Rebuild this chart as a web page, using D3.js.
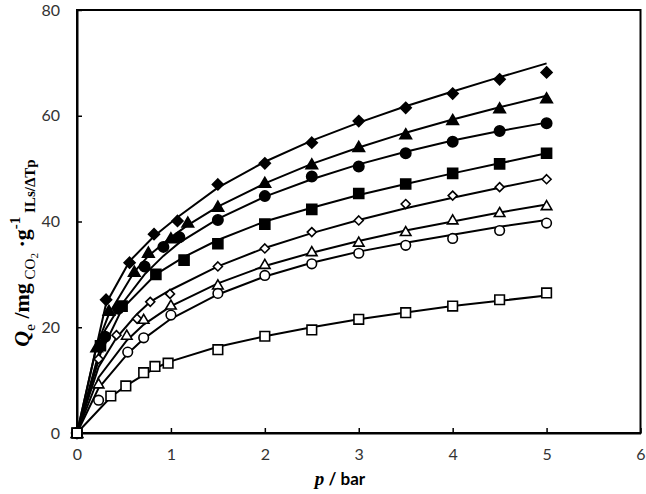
<!DOCTYPE html>
<html>
<head>
<meta charset="utf-8">
<script src="https://cdn.jsdelivr.net/npm/d3@7"></script>
<style>
  body { margin: 0; background: #fff; }
  svg { display: block; }
</style>
</head>
<body>
<div id="chart"></div>
<script>
// measured points: [p, Qe]
const filledDiamond = [[0,0],[0.31,25.2],[0.56,32.2],[0.82,37.6],[1.07,40.1],[1.5,47.0],[2,51.0],[2.5,54.9],[3,59.0],[3.5,61.5],[4,64.2],[4.5,66.9],[5,68.2]];
const filledTriangle = [[0,0],[0.21,16.2],[0.34,23.1],[0.61,30.5],[0.76,34.1],[1.0,36.8],[1.18,39.8],[1.5,42.8],[2,47.3],[2.5,50.8],[3,54.1],[3.5,56.5],[4,59.2],[4.5,61.4],[5,63.3]];
const filledCircle = [[0,0],[0.30,18.2],[0.44,23.5],[0.72,31.5],[0.92,35.2],[1.09,37.0],[1.5,40.3],[2,44.8],[2.5,48.5],[3,50.4],[3.5,52.9],[4,55.1],[4.5,57.1],[5,58.6]];
const filledSquare = [[0,0],[0.25,16.5],[0.48,24.0],[0.84,30.0],[1.14,32.7],[1.5,35.8],[2,39.5],[2.5,42.3],[3,45.3],[3.5,47.1],[4,49.1],[4.5,50.9],[5,52.9]];
const openDiamond = [[0,0],[0.23,14.0],[0.42,18.5],[0.64,21.6],[0.78,24.8],[0.99,26.3],[1.5,31.5],[2,34.9],[2.5,38.0],[3,40.2],[3.5,43.3],[4,44.9],[4.5,46.5],[5,48.0]];
const openTriangle = [[0,0],[0.23,9.3],[0.53,18.5],[0.71,21.5],[1.0,24.2],[1.5,28.0],[2,31.9],[2.5,34.3],[3,36.1],[3.5,38.1],[4,40.3],[4.5,41.7],[5,43.0]];
const openCircle = [[0,0],[0.23,6.2],[0.54,15.3],[0.71,18.0],[1.0,22.3],[1.5,26.4],[2,29.8],[2.5,32.0],[3,34.0],[3.5,35.5],[4,36.8],[4.5,38.3],[5,39.7]];
const openSquare = [[0,0],[0.36,7.0],[0.52,8.9],[0.71,11.4],[0.83,12.6],[0.97,13.2],[1.5,15.75],[2,18.3],[2.5,19.5],[3,21.5],[3.5,22.75],[4,24.0],[4.5,25.2],[5,26.5]];

// fitted curves
const fitFilledDiamond = [[0,0],[0.31,24.5],[0.56,32.5],[0.82,37.2],[1.07,40.8],[1.5,46.4],[2,51.3],[2.5,55.3],[3,58.7],[3.5,61.8],[4,64.6],[4.5,67.3],[5,69.9]];
const fitFilledTriangle = [[0,0],[0.21,16.5],[0.34,22.5],[0.61,30.5],[0.76,33.5],[1.0,37.0],[1.18,39.3],[1.5,42.8],[2,47.2],[2.5,50.9],[3,54.0],[3.5,56.8],[4,59.3],[4.5,61.6],[5,63.8]];
const fitFilledCircle = [[0,0],[0.30,19.5],[0.44,23.5],[0.72,30.0],[0.92,33.5],[1.09,36.0],[1.5,40.5],[2,44.7],[2.5,48.0],[3,50.8],[3.5,53.2],[4,55.3],[4.5,57.1],[5,58.7]];
const fitFilledSquare = [[0,0],[0.25,15.0],[0.48,23.5],[0.84,30.0],[1.14,33.3],[1.5,36.5],[2,40.0],[2.5,42.6],[3,45.0],[3.5,47.1],[4,49.1],[4.5,51.0],[5,52.9]];
const fitOpenDiamond = [[0,0],[0.23,12.5],[0.42,18.0],[0.64,22.5],[0.78,24.8],[0.99,27.0],[1.5,31.5],[2,35.0],[2.5,37.8],[3,40.3],[3.5,42.5],[4,44.5],[4.5,46.4],[5,48.2]];
const fitOpenTriangle = [[0,0],[0.23,10.5],[0.53,17.5],[0.71,20.5],[1.0,24.0],[1.5,28.3],[2,31.6],[2.5,34.1],[3,36.3],[3.5,38.3],[4,40.0],[4.5,41.7],[5,43.2]];
const fitOpenCircle = [[0,0],[0.23,8.5],[0.54,15.0],[0.71,17.8],[1.0,21.6],[1.5,26.2],[2,29.6],[2.5,32.2],[3,34.3],[3.5,36.0],[4,37.5],[4.5,39.0],[5,40.3]];
const fitOpenSquare = [[0,0],[0.36,6.8],[0.52,8.9],[0.71,11.0],[0.83,12.2],[0.97,13.4],[1.5,16.3],[2,18.3],[2.5,20.0],[3,21.5],[3.5,22.8],[4,24.0],[4.5,25.0],[5,26.0]];

const xTicks = [0, 1, 2, 3, 4, 5, 6];
const yTicks = [0, 20, 40, 60, 80];

const series = [
  { pts: filledDiamond, fit: fitFilledDiamond, shape: "diamond", fill: true, size: 5.5 },
  { pts: filledTriangle, fit: fitFilledTriangle, shape: "triangle", fill: true, size: 5.5 },
  { pts: filledCircle, fit: fitFilledCircle, shape: "circle", fill: true, size: 5.2 },
  { pts: filledSquare, fit: fitFilledSquare, shape: "square", fill: true, size: 5 },
  { pts: openDiamond, fit: fitOpenDiamond, shape: "diamond", fill: false, size: 4.5 },
  { pts: openTriangle, fit: fitOpenTriangle, shape: "triangle", fill: false, size: 5 },
  { pts: openCircle, fit: fitOpenCircle, shape: "circle", fill: false, size: 4.8 },
  { pts: openSquare, fit: fitOpenSquare, shape: "square", fill: false, size: 4.8 }
];

const W = 646, H = 494;
const svg = d3.select("#chart").append("svg").attr("width", W).attr("height", H);

const x = d3.scaleLinear().domain([0, 6]).range([77, 640.5]);
const y = d3.scaleLinear().domain([0, 80]).range([433, 10]);

// frame
svg.append("rect")
  .attr("x", x(0)).attr("y", y(80))
  .attr("width", x(6) - x(0)).attr("height", y(0) - y(80))
  .attr("fill", "none").attr("stroke", "#000").attr("stroke-width", 2);

// ticks inside
const xAxis = svg.append("g")
  .attr("transform", `translate(0,${y(0)})`)
  .call(d3.axisBottom(x).tickValues(xTicks).tickFormat(d3.format("d")).tickSizeInner(-5).tickSizeOuter(0).tickPadding(16));
const yAxis = svg.append("g")
  .attr("transform", `translate(${x(0)},0)`)
  .call(d3.axisLeft(y).tickValues(yTicks).tickFormat(d3.format("d")).tickSizeInner(-5).tickSizeOuter(0).tickPadding(17));

[xAxis, yAxis].forEach(a => {
  a.select(".domain").attr("stroke", "#000").attr("stroke-width", 2);
  a.selectAll(".tick line").attr("stroke", "#000").attr("stroke-width", 1.5);
  a.selectAll(".tick text")
    .attr("fill", "#333")
    .style("font-family", "Lato, 'Liberation Sans', sans-serif")
    .style("font-size", "16px");
});

const line = d3.line().x(d => x(d[0])).y(d => y(d[1]));

series.forEach(s => {
  svg.append("path")
    .datum(s.fit)
    .attr("fill", "none")
    .attr("stroke", "#000")
    .attr("stroke-width", 2)
    .attr("d", line);
});

function shapePath(shape, r) {
  if (shape === "square") return `M${-r},${-r}H${r}V${r}H${-r}Z`;
  if (shape === "diamond") return `M0,${-r}L${r},0L0,${r}L${-r},0Z`;
  if (shape === "triangle") return `M0,${-r}L${r * 1.05},${r * 0.8}L${-r * 1.05},${r * 0.8}Z`;
  return null;
}

series.forEach(s => {
  const g = svg.append("g");
  s.pts.forEach(d => {
    const cx = x(d[0]), cy = y(d[1]);
    if (s.shape === "circle") {
      g.append("circle")
        .attr("cx", cx).attr("cy", cy).attr("r", s.size)
        .attr("fill", s.fill ? "#000" : "#fff")
        .attr("stroke", "#000").attr("stroke-width", 1.6);
    } else {
      g.append("path")
        .attr("transform", `translate(${cx},${cy})`)
        .attr("d", shapePath(s.shape, s.size))
        .attr("fill", s.fill ? "#000" : "#fff")
        .attr("stroke", "#000").attr("stroke-width", 1.6);
    }
  });
});

// x label
const xl = svg.append("text")
  .attr("x", 340).attr("y", 485)
  .attr("text-anchor", "middle")
  .style("font-weight", "bold")
  .style("font-size", "17px");
xl.append("tspan").style("font-family", "'Liberation Serif', serif").style("font-style", "italic").style("font-size", "19px").text("p");
xl.append("tspan").style("font-family", "Lato, 'Liberation Sans', sans-serif").text(" / bar");

// y label
const yl = svg.append("text")
  .attr("transform", "translate(29,253) rotate(-90)")
  .attr("text-anchor", "middle")
  .style("font-family", "'Liberation Serif', serif")
  .style("font-weight", "bold")
  .style("font-size", "22px");
yl.append("tspan").style("font-style", "italic").text("Q");
yl.append("tspan").attr("dy", 6).style("font-size", "15px").style("font-weight", "normal").text("e");
yl.append("tspan").attr("dy", -6).text(" /mg");
yl.append("tspan").attr("dy", 6).style("font-size", "15px").style("font-weight", "normal").text(" CO");
yl.append("tspan").attr("dy", 3).style("font-size", "11px").style("font-weight", "normal").text("2");
yl.append("tspan").attr("dy", -9).text(" ·g");
yl.append("tspan").attr("dy", -9).style("font-size", "15px").text("-1");
yl.append("tspan").attr("dy", 15).style("font-size", "15px").text(" ILs/ΔTp");
</script>
</body>
</html>
